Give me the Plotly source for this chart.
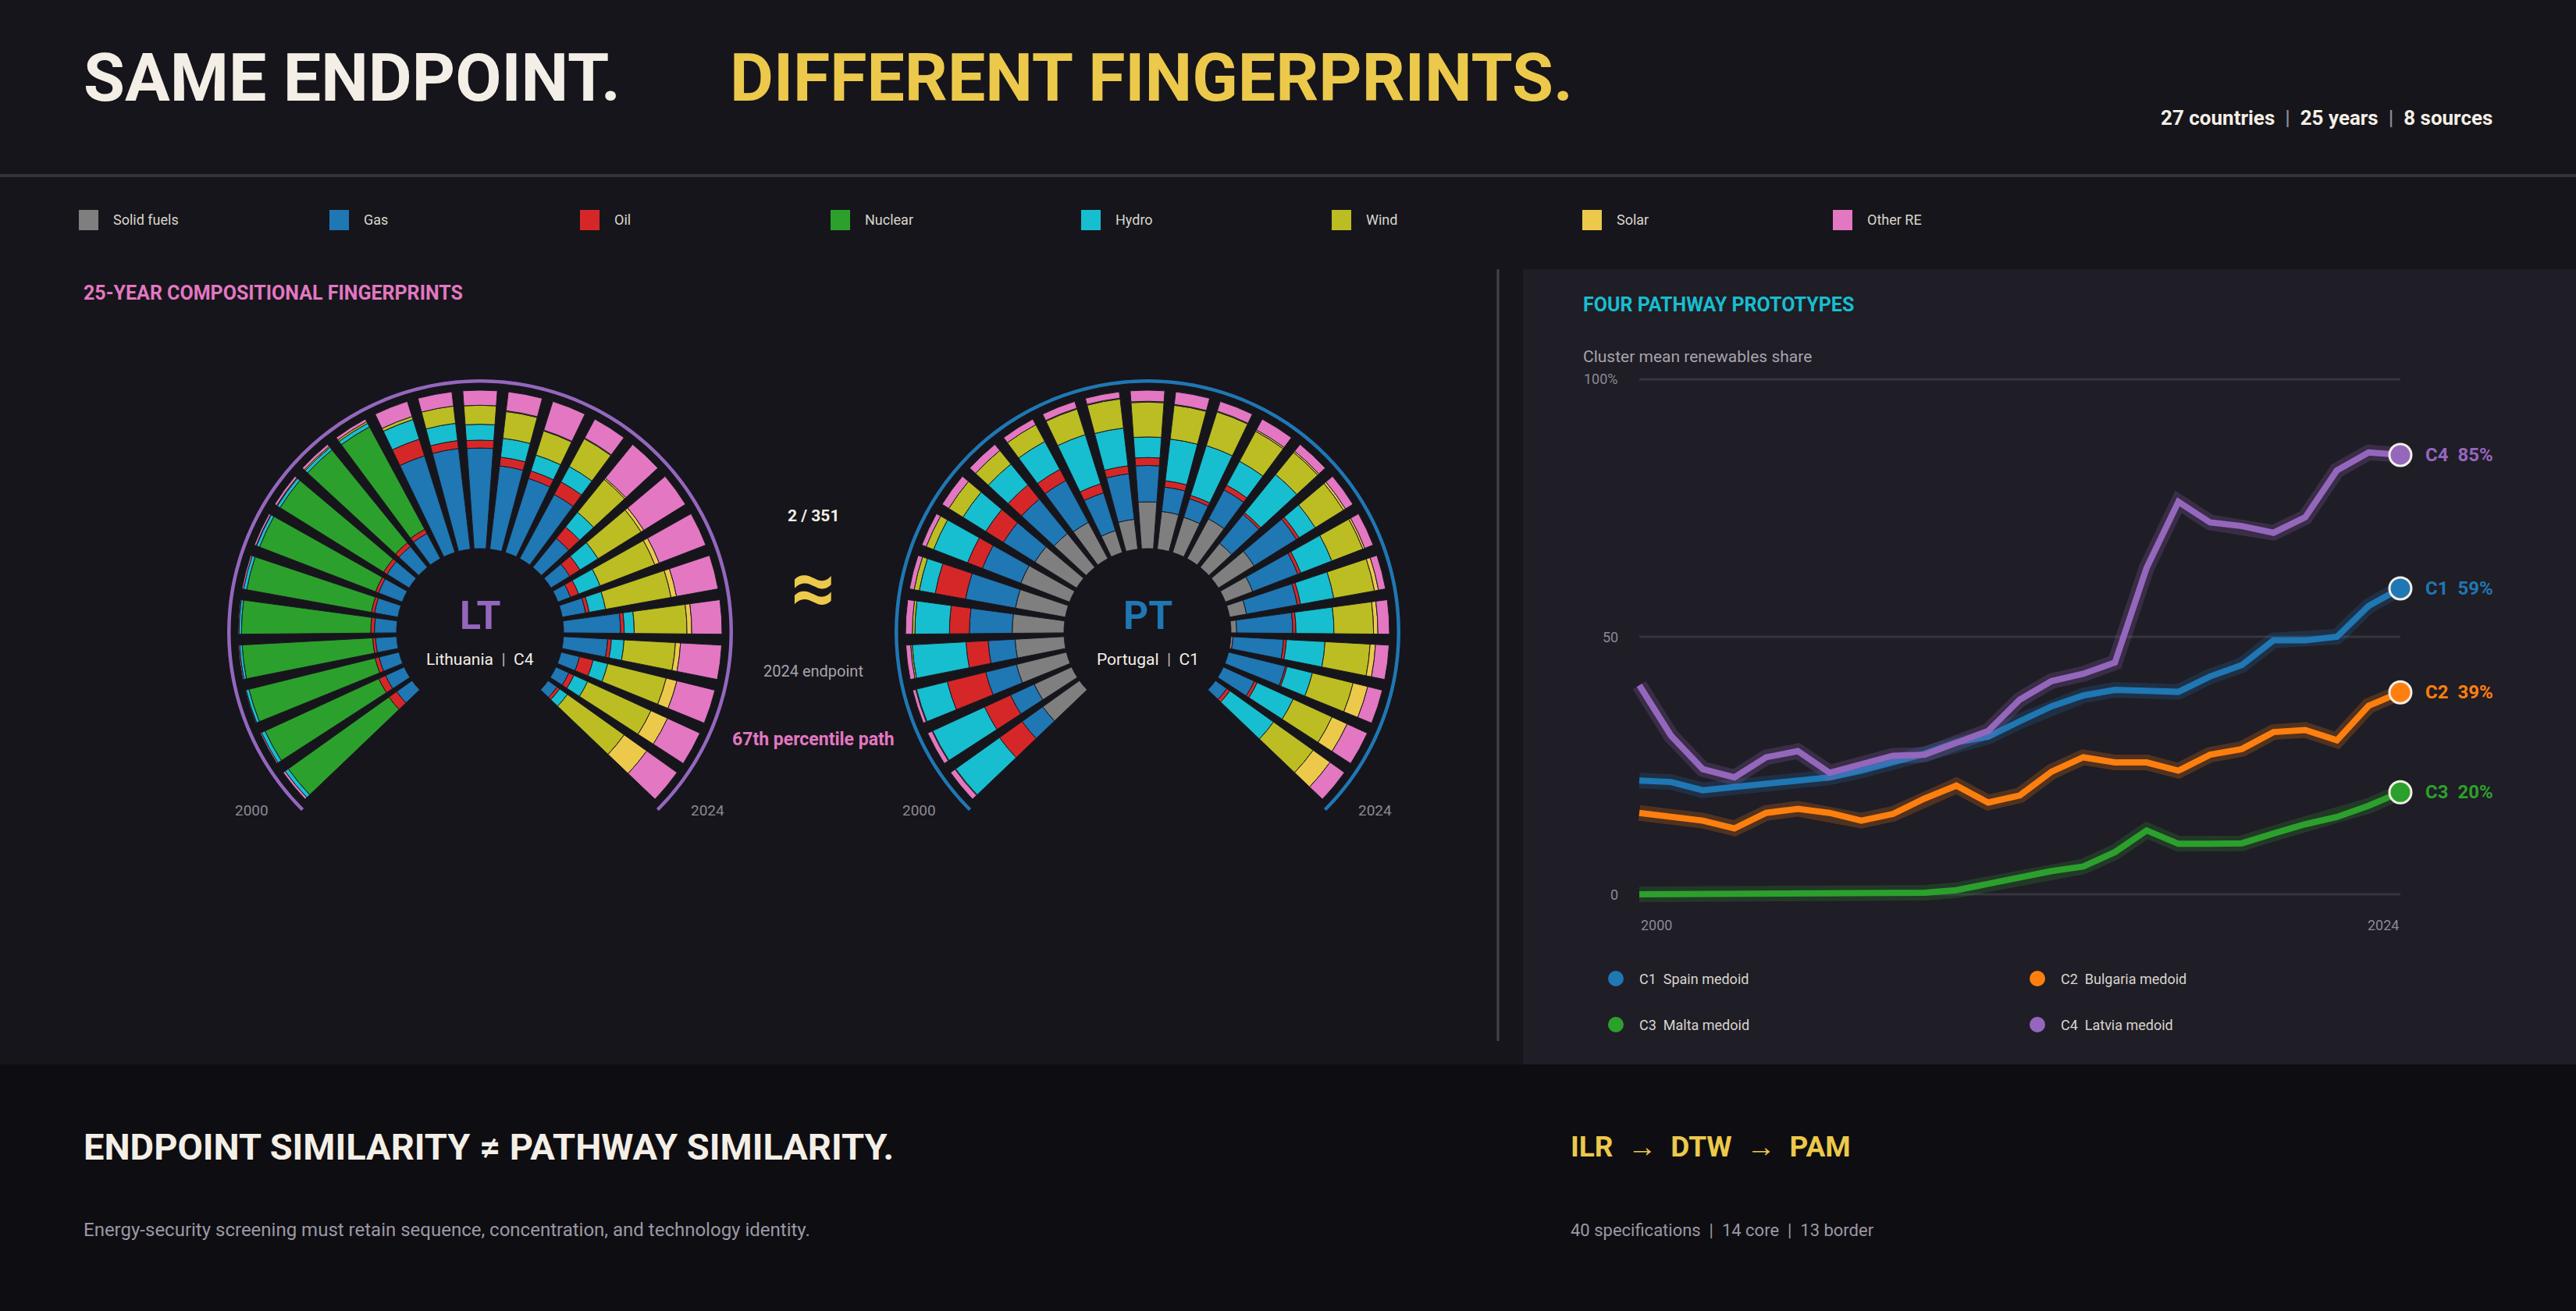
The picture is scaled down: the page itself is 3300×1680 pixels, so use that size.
import numpy as np
import plotly.graph_objects as go

W, H = 3300, 1680
BG = "#16151b"
PANEL = "#1f1d26"
FOOT = "#0e0d12"
INK = "#f4efe6"
MUTED = "#a7a3ae"
FAINT = "#8d8996"
YELLOW = "#ecc94b"
FONT = "Roboto, Liberation Sans, sans-serif"

years = list(range(2000, 2025))

sources = ["Solid fuels", "Gas", "Oil", "Nuclear", "Hydro", "Wind", "Solar", "Other RE"]
source_colors = ["#7f7f7f", "#1f77b4", "#d62728", "#2ca02c", "#17becf", "#bcbd22", "#ecc94b", "#e377c2"]

# Lithuania (C4), generation shares in %, 2000..2024
lt_solid = [0, 0, 0, 0, 0, 0, 0, 0, 0, 0, 0, 0, 0, 0, 0, 0, 0, 0, 0, 0, 0, 0, 0, 0, 0]
lt_gas = [12, 13, 13, 13.4, 14, 15, 16, 16.5, 17, 18, 64, 64, 63.5, 53, 49, 46, 23.5, 14, 8.5, 15, 36, 28, 12, 9, 7]
lt_oil = [6, 4.7, 2.6, 1.8, 2.3, 2, 2, 2.5, 3, 3, 11, 5, 5, 5.5, 5, 9, 9.3, 7.6, 5.5, 2.3, 2.3, 2.3, 8.8, 3.5, 2]
lt_nuclear = [78, 79, 82, 82.5, 81.6, 80, 78.5, 77, 75.5, 73.5, 0, 0, 0, 0, 0, 0, 0, 0, 0, 0, 0, 0, 0, 0, 0]
lt_hydro = [2.5, 2.5, 1.9, 1.6, 1.5, 2, 2, 2, 2, 2.5, 13, 11, 10, 12, 10.5, 11, 12, 13.4, 14.5, 10.5, 6.3, 8, 9.5, 9.5, 6]
lt_wind = [0, 0, 0, 0, 0, 0, 0.3, 0.5, 0.8, 1.2, 2, 11, 12, 17, 16, 20, 26.7, 32, 37, 42, 33.3, 32.5, 38, 44, 44]
lt_solar = [0, 0, 0, 0, 0, 0, 0, 0, 0, 0, 0, 0, 0, 0.5, 0.5, 0.5, 1, 2, 3, 3.5, 3, 3.2, 7, 11.5, 17.5]
lt_other = [1.5, 0.8, 0.5, 0.7, 0.6, 1, 1.2, 1.5, 1.7, 1.8, 10, 9, 9.5, 12, 19, 13.5, 27.5, 31, 31.5, 26.7, 19.1, 26, 24.7, 22.5, 23.5]

# Portugal (C1)
pt_solid = [28.5, 26, 32.5, 31, 32.7, 32, 33, 31, 27.5, 26, 14.5, 19, 29.5, 24, 23.3, 28.5, 19.5, 26.5, 18.5, 10.8, 3.6, 1.4, 0, 0, 0]
pt_gas = [16, 16.5, 20, 17, 27, 32, 26, 23.5, 28, 30, 25, 29, 23, 15.5, 12.3, 20.8, 23.5, 31.5, 30.5, 32.6, 35.4, 31.9, 37, 21.5, 8.8]
pt_oil = [17.5, 18, 25, 14, 12.6, 19.5, 10, 13, 11.5, 8, 6, 5, 5, 4, 2.2, 3.4, 1.5, 2, 2, 2.1, 2, 1.8, 1, 2, 2.4]
pt_nuclear = [0, 0, 0, 0, 0, 0, 0, 0, 0, 0, 0, 0, 0, 0, 0, 0, 0, 0, 0, 0, 0, 0, 0, 0, 0]
pt_hydro = [34, 36, 20, 34, 21.8, 10.2, 23, 17, 17, 20, 32.5, 24, 13, 26.5, 33, 17.1, 31, 12, 21, 21.3, 24, 24.4, 16.5, 25, 33.8]
pt_wind = [0.5, 0.5, 0.5, 1, 1.6, 3.3, 5, 10.5, 11, 12, 17, 18.5, 22, 21.5, 22.3, 21.5, 18, 21, 21, 26.1, 25, 28.5, 26.5, 27, 30.7]
pt_solar = [0, 0, 0, 0, 0, 0, 0, 0, 0, 0, 0.5, 0.5, 0.5, 0.5, 0.5, 1, 1, 1.5, 1.3, 2.6, 2.7, 3.4, 9.5, 10.5, 13.1]
pt_other = [3.5, 3, 2, 3, 4.3, 3, 3, 5, 5, 4, 4.5, 4, 7, 8, 6.4, 7.7, 5.5, 5.5, 5.7, 4.5, 7.3, 8.6, 9.5, 14, 11.2]

# cluster mean renewables share, %
c1_spain = [22.1, 21.8, 20.2, 20.8, 21.5, 21.8, 22.7, 24.0, 25.6, 27.3, 29.5, 30.6, 33.6, 36.5, 38.6, 39.7, 39.5, 39.3, 42.3, 44.5, 49.3, 49.3, 50.0, 56.0, 59.4]
c2_bulgaria = [15.8, 15.1, 14.3, 12.8, 15.8, 16.6, 15.8, 14.3, 15.6, 18.6, 21.1, 17.8, 19.2, 23.8, 26.6, 25.6, 25.6, 24.0, 27.1, 28.2, 31.5, 31.9, 29.9, 36.6, 39.2]
c3_malta = [0, 0, 0, 0, 0, 0, 0, 0, 0.1, 0.3, 0.8, 2.1, 3.4, 4.5, 5.4, 8.2, 12.4, 9.8, 9.8, 9.9, 11.8, 13.6, 15.0, 17.2, 19.8]
c4_latvia = [40.6, 30.8, 24.3, 22.7, 26.6, 27.8, 23.6, 25.4, 26.9, 27.1, 29.5, 31.7, 37.8, 41.4, 42.8, 45.0, 63.4, 76.2, 72.2, 71.5, 70.2, 73.2, 82.3, 85.8, 85.3]

clusters = ["C1", "C2", "C3", "C4"]
medoids = ["Spain", "Bulgaria", "Malta", "Latvia"]
cluster_colors = ["#1f77b4", "#ff7f0e", "#2ca02c", "#9467bd"]
cluster_series = [c1_spain, c2_bulgaria, c3_malta, c4_latvia]


def px(x):
    return x / W


def py(y):
    return 1 - y / H


def rgba(hex_color, a):
    h = hex_color.lstrip("#")
    return "rgba(%d,%d,%d,%.2f)" % (int(h[0:2], 16), int(h[2:4], 16), int(h[4:6], 16), a)


annotations = []


def txt(x, y, text, size, color, anchor="left", bold=False, xref="paper", yref="paper"):
    if bold:
        text = "<b>" + text + "</b>"
    annotations.append(dict(
        x=px(x) if xref == "paper" else x,
        y=py(y) if yref == "paper" else y,
        xref=xref, yref=yref, text=text, showarrow=False,
        xanchor=anchor, yanchor="middle",
        font=dict(family=FONT, size=size, color=color),
    ))


fig = go.Figure()

# ---- fingerprint fans ----
STEP = 270 / 25          # degrees per year
R_PX = 324
HOLE = 107 / R_PX
R_MAX = 106.9
RING = 105.9


def add_fan(subplot, shares, ring_color):
    theta = [(y - 2000) * STEP for y in years]
    for name, color, r in zip(sources, source_colors, shares):
        fig.add_trace(go.Barpolar(
            r=r, theta=theta, width=8.2, name=name, subplot=subplot,
            marker=dict(color=color, line=dict(color="#1b1a21", width=1)),
            showlegend=False, hovertemplate=name + " %{r}%<extra></extra>",
        ))
    arc = np.linspace(-STEP / 2, (len(years) - 0.5) * STEP, 240)
    fig.add_trace(go.Scatterpolar(
        r=[RING] * len(arc), theta=arc, mode="lines", subplot=subplot,
        line=dict(color=ring_color, width=5), showlegend=False, hoverinfo="skip",
    ))


add_fan("polar", [lt_solid, lt_gas, lt_oil, lt_nuclear, lt_hydro, lt_wind, lt_solar, lt_other], "#9467bd")
add_fan("polar2", [pt_solid, pt_gas, pt_oil, pt_nuclear, pt_hydro, pt_wind, pt_solar, pt_other], "#1f77b4")


def polar_layout(cx, cy):
    return dict(
        domain=dict(x=[px(cx - R_PX), px(cx + R_PX)], y=[py(cy + R_PX), py(cy - R_PX)]),
        hole=HOLE, bgcolor="rgba(0,0,0,0)", barmode="stack", bargap=0,
        radialaxis=dict(range=[0, R_MAX], visible=False),
        angularaxis=dict(visible=False, direction="clockwise", rotation=219.6),
    )


fans = [(615, "LT", "Lithuania", "C4", "#9467bd"), (1470, "PT", "Portugal", "C1", "#1f77b4")]
for cx, code, country, cl, col in fans:
    txt(cx, 789, code, 50, col, anchor="center", bold=True)
    txt(cx, 845, country + "\u00a0\u00a0<span style='color:#bdb8c2'>|</span>\u00a0\u00a0" + cl, 21, INK, anchor="center")
    txt(cx - 293, 1038, "2000", 19, FAINT, anchor="center")
    txt(cx + 291, 1038, "2024", 19, FAINT, anchor="center")

txt(1042, 661, "2 / 351", 21, INK, anchor="center", bold=True)
txt(1042, 753, "\u2248", 100, YELLOW, anchor="center", bold=True)
txt(1042, 860, "2024 endpoint", 20, MUTED, anchor="center")
txt(1042, 947, "67th percentile path", 23, "#e377c2", anchor="center", bold=True)

# ---- pathway prototypes ----
for s, col in zip(cluster_series, cluster_colors):
    fig.add_trace(go.Scatter(x=years, y=s, mode="lines", line=dict(color=rgba(col, 0.22), width=20),
                             showlegend=False, hoverinfo="skip"))
    fig.add_trace(go.Scatter(x=years, y=s, mode="lines", line=dict(color=col, width=8),
                             showlegend=False))
for s, col, cl in zip(cluster_series, cluster_colors, clusters):
    fig.add_trace(go.Scatter(x=[years[-1]], y=[s[-1]], mode="markers", cliponaxis=False,
                             marker=dict(color=col, size=28, line=dict(color=INK, width=3)),
                             showlegend=False))
    txt(3105, s[-1], cl + "\u00a0\u00a0" + "%.0f%%" % s[-1], 24, col, bold=True, yref="y")

for v, lab in zip([0, 50, 100], ["0", "50", "100%"]):
    txt(2075, v, lab, 18, FAINT, anchor="right", yref="y")
txt(2000, 1185, "2000", 18, FAINT, anchor="left", xref="x")
txt(2024, 1185, "2024", 18, FAINT, anchor="right", xref="x")

shapes = [
    dict(type="rect", xref="paper", yref="paper", x0=px(1951), x1=1, y0=py(1364), y1=py(345),
         fillcolor=PANEL, line=dict(width=0), layer="below"),
    dict(type="rect", xref="paper", yref="paper", x0=0, x1=1, y0=0, y1=py(1364),
         fillcolor=FOOT, line=dict(width=0), layer="below"),
    dict(type="rect", xref="paper", yref="paper", x0=0, x1=1, y0=py(227), y1=py(223),
         fillcolor="#35323d", line=dict(width=0), layer="below"),
    dict(type="line", xref="paper", yref="paper", x0=px(1919), x1=px(1919), y0=py(1334), y1=py(345),
         line=dict(color="#45424d", width=3), layer="below"),
]
for v in [0, 50, 100]:
    shapes.append(dict(type="line", xref="x", yref="y", x0=2000, x1=2024, y0=v, y1=v,
                       line=dict(color="#37343f", width=3), layer="below"))

# top legend
for i, (name, col) in enumerate(zip(sources, source_colors)):
    x0 = 101 + 321 * i
    shapes.append(dict(type="rect", xref="paper", yref="paper", x0=px(x0), x1=px(x0 + 25),
                       y0=py(295), y1=py(269), fillcolor=col, line=dict(width=0)))
    txt(x0 + 42, 282, name, 18, "#d9d5cd")

# bottom legend
for i, (cl, md, col) in enumerate(zip(clusters, medoids, cluster_colors)):
    lx = 2070 + 540 * (i % 2)
    ly = 1254 + 59 * (i // 2)
    shapes.append(dict(type="circle", xref="paper", yref="paper", x0=px(lx - 10), x1=px(lx + 10),
                       y0=py(ly + 10), y1=py(ly - 10), fillcolor=col, line=dict(width=0)))
    txt(lx + 28, ly, cl + "\u00a0\u00a0" + md + " medoid", 18, "#d9d5cd")

# ---- text ----
txt(105, 99, "SAME ENDPOINT.", 86, INK, bold=True)
txt(933, 99, "DIFFERENT FINGERPRINTS.", 86, YELLOW, bold=True)
sep = "\u00a0\u00a0<span style='color:#8d8996'>|</span>\u00a0\u00a0"
txt(3195, 151, "27 countries" + sep + "25 years" + sep + "8 sources", 26, INK, anchor="right", bold=True)
txt(105, 375, "25-YEAR COMPOSITIONAL FINGERPRINTS", 25, "#e377c2", bold=True)
txt(2026, 390, "FOUR PATHWAY PROTOTYPES", 25, "#17becf", bold=True)
txt(2026, 457, "Cluster mean renewables share", 21, MUTED)
txt(105, 1469, "ENDPOINT SIMILARITY \u2260 PATHWAY SIMILARITY.", 47, INK, bold=True)
txt(105, 1576, "Energy-security screening must retain sequence, concentration, and technology identity.", 24, "#9c98a4")
arrow = "\u00a0\u00a0\u2192\u00a0\u00a0"
txt(2010, 1469, "ILR" + arrow + "DTW" + arrow + "PAM", 37, YELLOW, bold=True)
sep2 = "\u00a0\u00a0|\u00a0\u00a0"
txt(2010, 1576, "40 specifications" + sep2 + "14 core" + sep2 + "13 border", 22, "#9c98a4")

fig.update_layout(
    width=W, height=H, margin=dict(l=0, r=0, t=0, b=0),
    paper_bgcolor=BG, plot_bgcolor="rgba(0,0,0,0)",
    font=dict(family=FONT, color=INK),
    polar=polar_layout(615, 810),
    polar2=polar_layout(1470, 810),
    xaxis=dict(domain=[px(2079.7), px(3095.3)], range=[1999.5, 2024.5], visible=False),
    yaxis=dict(domain=[py(1165.8), py(466.2)], range=[-3, 103], visible=False),
    shapes=shapes, annotations=annotations, showlegend=False,
)

fig.write_html("out.html", config={"displayModeBar": False},
               post_script="document.body.style.margin='0';document.body.style.background='%s';" % BG)
